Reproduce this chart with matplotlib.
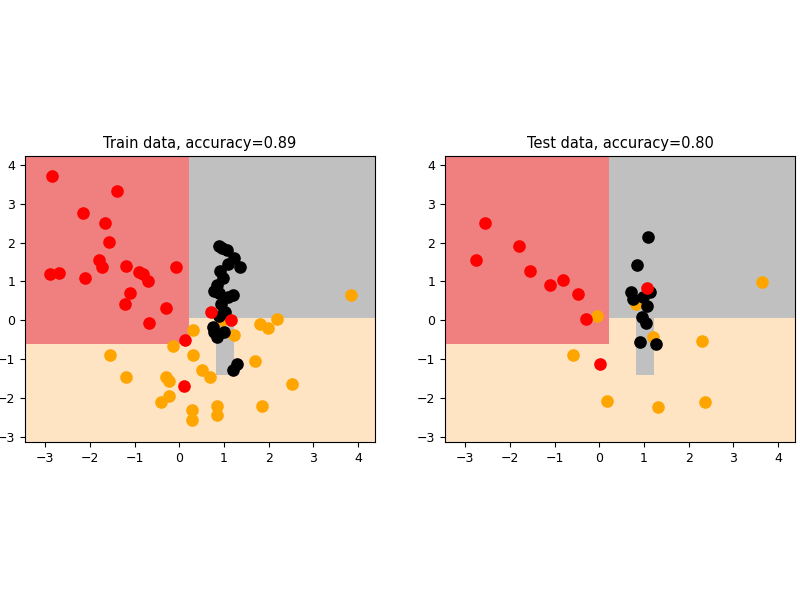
import numpy as np
import matplotlib
matplotlib.use("Agg")
import matplotlib.pyplot as plt
from matplotlib.colors import ListedColormap

# Decision tree split thresholds
x_split = 0.22
y_red = -0.6
y_grey = 0.05
strip_x = [0.82, 1.22]
strip_y = -1.4

train_red = [(-2.85,3.7),(-1.4,3.32),(-2.15,2.75),(-1.65,2.5),(-1.58,2.02),(-1.8,1.55),(-1.72,1.38),(-2.9,1.2),(-2.7,1.22),(-2.1,1.1),(-1.2,1.4),(-0.9,1.25),(-0.82,1.2),(-0.7,1.0),(-0.08,1.37),(-1.1,0.7),(-1.22,0.42),(-0.3,0.32),(-0.68,-0.07),(0.12,-0.5),(0.1,-1.68),(0.72,0.22),(1.15,0.02)]
train_black = [(0.88,1.9),(0.95,1.85),(1.08,1.8),(1.22,1.6),(1.1,1.45),(1.35,1.37),(0.92,1.28),(0.98,1.1),(0.78,0.75),(0.85,0.9),(0.88,0.7),(1.1,0.6),(1.2,0.65),(0.93,0.42),(1.02,0.22),(0.88,0.12),(0.75,-0.18),(0.78,-0.3),(0.85,-0.42),(1.0,-0.3),(1.3,-1.12),(1.2,-1.28)]
train_orange = [(3.85,0.65),(2.18,0.03),(1.8,-0.1),(1.98,-0.2),(0.95,0.02),(0.3,-0.25),(1.22,-0.38),(-0.15,-0.65),(-1.55,-0.88),(0.3,-0.88),(0.5,-1.28),(0.68,-1.45),(1.7,-1.03),(-1.2,-1.45),(-0.3,-1.45),(-0.22,-1.55),(2.52,-1.62),(-0.22,-1.95),(-0.4,-2.1),(0.28,-2.3),(0.85,-2.2),(1.85,-2.2),(0.28,-2.55),(0.85,-2.42)]

test_red = [(-2.55,2.5),(-2.75,1.56),(-1.79,1.92),(-1.55,1.28),(-1.1,0.9),(-0.8,1.05),(-0.47,0.69),(-0.3,0.03),(0.02,-1.13),(1.07,0.84)]
test_black = [(1.1,2.15),(0.85,1.43),(0.72,0.72),(0.76,0.56),(0.98,0.61),(1.14,0.72),(1.07,0.36),(0.96,0.08),(1.05,-0.07),(0.92,-0.56),(1.27,-0.61)]
test_orange = [(3.65,0.98),(-0.04,0.12),(0.83,0.43),(1.2,-0.43),(2.3,-0.52),(-0.58,-0.9),(0.18,-2.07),(1.32,-2.22),(2.37,-2.1)]

xlim = (-3.45, 4.38)
ylim = (-3.12, 4.22)

def predict(X, Y):
    Z = np.full(X.shape, 2)  # orange
    Z[(X < x_split) & (Y > y_red)] = 0  # red
    Z[(X >= x_split) & (Y > y_grey)] = 1  # grey
    Z[(X >= strip_x[0]) & (X < strip_x[1]) & (Y > strip_y) & (Y <= y_grey)] = 1
    return Z

xx, yy = np.meshgrid(np.linspace(*xlim, 800), np.linspace(*ylim, 800))
Z = predict(xx, yy)
cmap = ListedColormap(['#f08080', '#c0c0c0', '#ffe4c4'])

fig = plt.figure(figsize=(8, 6), dpi=100)
ax1 = fig.add_axes([25/800, 1-442/600, 350/800, 286/600])
ax2 = fig.add_axes([445/800, 1-442/600, 350/800, 286/600])

for ax, (r, b, o), title in [(ax1, (train_red, train_black, train_orange), 'Train data, accuracy=0.89'),
                             (ax2, (test_red, test_black, test_orange), 'Test data, accuracy=0.80')]:
    ax.pcolormesh(xx, yy, Z, cmap=cmap, vmin=0, vmax=2, shading='auto')
    for pts, c in [(o, 'orange'), (b, 'black'), (r, 'red')]:
        a = np.array(pts)
        ax.scatter(a[:, 0], a[:, 1], c=c, s=65, zorder=3)
    ax.set_xlim(*xlim)
    ax.set_ylim(*ylim)
    ax.set_xticks(range(-3, 5))
    ax.set_yticks(range(-3, 5))
    ax.set_title(title, fontsize=10.5)
    ax.tick_params(labelsize=9)

fig.savefig('out.png', dpi=100)
